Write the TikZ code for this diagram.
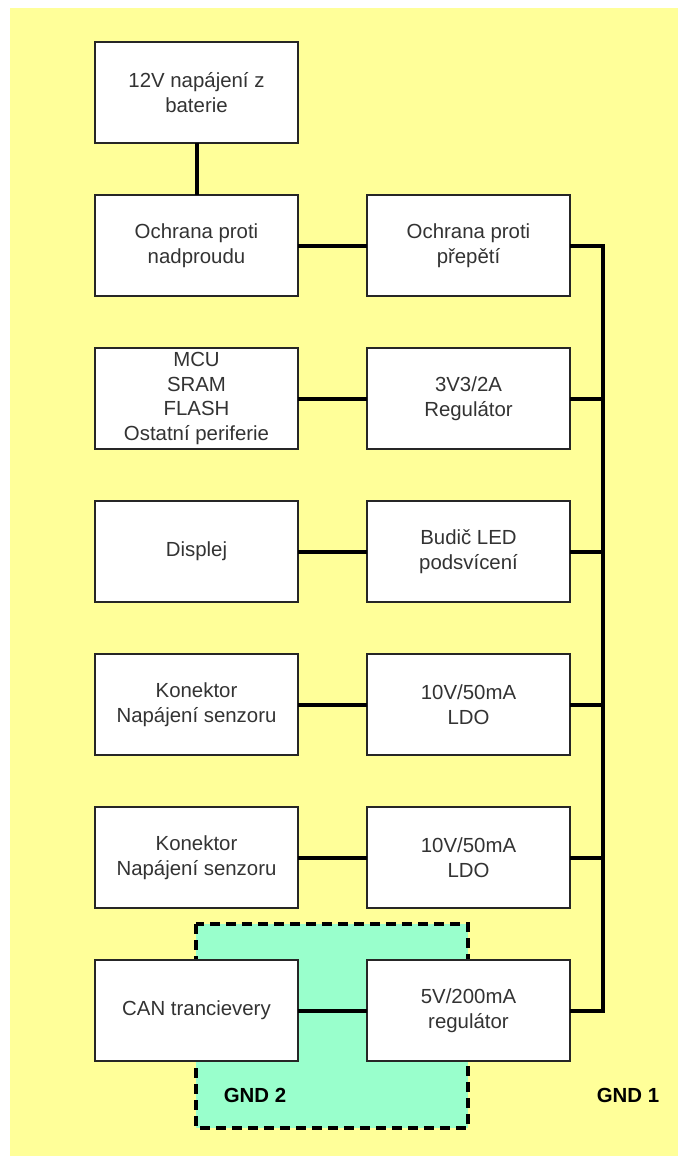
\documentclass[tikz,border=0pt]{standalone}
\usepackage{fontspec}
\setmainfont{Liberation Sans}
\usepackage{xcolor}
\usetikzlibrary{positioning}

\definecolor{podklad}{HTML}{FFFF99}
\definecolor{izol}{HTML}{99FFCC}

\begin{document}
\begin{tikzpicture}[x=1pt, y=-1pt,
      blok/.style={draw=black!85, line width=1.8pt, fill=white, align=center,
                   minimum width=203pt, minimum height=101pt, inner sep=0pt, outer sep=0pt,
                   font=\fontsize{20.4}{24.5}\selectfont, text=black!80},
      wire/.style={line width=4pt, black},
      gnd/.style={font=\fontsize{20.4}{24.5}\selectfont\bfseries, text=black}]
    \useasboundingbox (0,0) rectangle (678,1156);
    \fill[podklad] (10,8) rectangle (678,1156);
    \filldraw[fill=izol, draw=black, line width=3.4pt, dash pattern=on 10pt off 6pt]
      (196,924) rectangle (468,1128);

    \node[blok] (bat) at (196.5,92.5) {12V napájení z\\baterie};
    \node[blok, below=52pt of bat] (nadproud) {Ochrana proti\\nadproudu};
    \node[blok, right=69pt of nadproud] (prepeti) {Ochrana proti\\přepětí};
    \node[blok, below=52pt of nadproud] (mcu) {MCU\\SRAM\\FLASH\\Ostatní periferie};
    \node[blok, right=69pt of mcu] (reg33) {3V3/2A\\Regulátor};
    \node[blok, below=52pt of mcu] (displej) {Displej};
    \node[blok, right=69pt of displej] (budic) {Budič LED\\podsvícení};
    \node[blok, below=52pt of displej] (kon1) {Konektor\\Napájení senzoru};
    \node[blok, right=69pt of kon1] (ldo1) {10V/50mA\\LDO};
    \node[blok, below=52pt of kon1] (kon2) {Konektor\\Napájení senzoru};
    \node[blok, right=69pt of kon2] (ldo2) {10V/50mA\\LDO};
    \node[blok, below=52pt of kon2] (can) {CAN trancievery};
    \node[blok, right=69pt of can] (reg5) {5V/200mA\\regulátor};

    \node[gnd] (gnd2) at (255,1095) {GND 2};
    \node[gnd] (gnd1) at (628,1095) {GND 1};

    \coordinate[right=33pt of prepeti.east] (bus);
    \draw[wire] (bat) -- (nadproud);
    \draw[wire] (nadproud) -- (prepeti);
    \draw[wire] (mcu) -- (reg33);
    \draw[wire] (displej) -- (budic);
    \draw[wire] (kon1) -- (ldo1);
    \draw[wire] (kon2) -- (ldo2);
    \draw[wire] (can) -- (reg5);
    \draw[wire] (prepeti.east) -- (bus) |- (reg5.east);
    \foreach \n in {reg33,budic,ldo1,ldo2}
      \draw[wire] (\n.east) -- (\n.east -| bus);
  \end{tikzpicture}
\end{document}
